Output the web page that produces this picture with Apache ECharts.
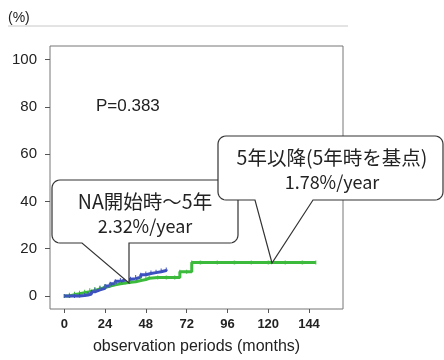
<!DOCTYPE html>
<html><head><meta charset="utf-8">
<script src="https://cdn.jsdelivr.net/npm/echarts@6/dist/echarts.min.js"></script>
<style>html,body{margin:0;padding:0;background:#fff}#c{width:444px;height:360px}</style>
</head><body><div id="c"></div>
<script>
const xTicks = [0, 24, 48, 72, 96, 120, 144];
const yTicks = [0, 20, 40, 60, 80, 100];
const blueMonths = [0,3,6,9,12,14,16,18,21,24,27,30,33,36,39,42,45,48,51,54,57,60];
const blueValues = [0,0,0,0.2,0.4,0.8,1.8,2.6,3.3,4.2,5.2,6.2,6.8,7.1,7.3,8.0,9.0,9.5,9.9,10.3,10.8,11.2];
const greenMonths = [0,3,6,9,12,15,18,21,24,27,30,33,36,39,42,45,48,50,55,60,65,68,72,75,80,90,100,110,120,130,140,148];
const greenValues = [0,0.5,1,1.4,1.8,2.4,3.0,3.6,4.2,4.7,5.2,5.5,5.8,6.0,6.5,7.0,7.5,7.8,7.8,7.8,7.8,10.3,10.3,14.2,14.2,14.2,14.2,14.2,14.2,14.2,14.2,14.2];
const pText = 'P=0.383';
const note1 = ['NA開始時～5年', '2.32%/year'];
const note2 = ['5年以降(5年時を基点)', '1.78%/year'];
const xName = 'observation periods (months)';

const zip = (a, b) => a.map((v, i) => [v, b[i]]);
const font = '"Liberation Sans", Arial, sans-serif';
const cjk = '"Noto Sans CJK JP", "Liberation Sans", sans-serif';

// rounded callout outline: box (x0,y0,x1,y1), radius r, pointer base on bottom edge, tip (tx,ty)
function callout(x0, y0, x1, y1, r, bRight, bLeft, tx, ty) {
  const pts = [];
  const arc = (cx, cy, a0, a1) => {
    for (let i = 0; i <= 6; i++) {
      const a = a0 + (a1 - a0) * i / 6;
      pts.push([cx + r * Math.cos(a), cy + r * Math.sin(a)]);
    }
  };
  const P = Math.PI;
  arc(x0 + r, y0 + r, P, 1.5 * P);
  arc(x1 - r, y0 + r, 1.5 * P, 2 * P);
  arc(x1 - r, y1 - r, 0, 0.5 * P);
  pts.push([bRight, y1], [tx, ty], [bLeft, y1]);
  arc(x0 + r, y1 - r, 0.5 * P, P);
  return pts;
}

const chart = echarts.init(document.getElementById('c'));
chart.setOption({
  animation: false,
  grid: { left: 50, top: 46, right: 101, bottom: 46, show: true, borderColor: '#777', borderWidth: 1, backgroundColor: '#fff' },
  xAxis: {
    type: 'value', min: -8.4, max: 164,
    name: xName, nameLocation: 'middle', nameGap: 30,
    nameTextStyle: { fontFamily: font, fontSize: 16, color: '#222' },
    axisLine: { show: false, onZero: false },
    splitLine: { show: false },
    axisTick: { show: true, inside: false, length: 4, lineStyle: { color: '#555' }, customValues: xTicks },
    axisLabel: { customValues: xTicks, margin: 9, fontFamily: font, fontSize: 13, fontWeight: 'bold', color: '#222' }
  },
  yAxis: {
    type: 'value', min: -5.5, max: 105.8,
    axisLine: { show: false, onZero: false },
    splitLine: { show: false },
    axisTick: { show: true, inside: false, length: 5, lineStyle: { color: '#555' }, customValues: yTicks },
    axisLabel: { customValues: yTicks, margin: 13, fontFamily: font, fontSize: 15, color: '#222' }
  },
  series: [
    { type: 'line', data: zip(greenMonths, greenValues), step: 'end', symbol: 'rect', symbolSize: [1, 4], showAllSymbol: true,
      lineStyle: { color: '#3cba3c', width: 3 }, itemStyle: { color: '#3cba3c' } },
    { type: 'line', data: zip(blueMonths, blueValues), step: 'end', symbol: 'rect', symbolSize: [1, 4], showAllSymbol: true,
      lineStyle: { color: '#3d50c0', width: 3 }, itemStyle: { color: '#3d50c0' } }
  ],
  graphic: [
    { type: 'line', shape: { x1: 8, y1: 26, x2: 348, y2: 26 }, style: { stroke: '#c8c8c8', lineWidth: 1 } },
    { type: 'text', x: 8, y: 18, style: { text: '(%)', font: '14px ' + font, fill: '#222', textVerticalAlign: 'middle' } },
    { type: 'text', x: 96, y: 106, style: { text: pText, font: '17px ' + font, fill: '#222', textVerticalAlign: 'middle' } },
    { type: 'polygon', shape: { points: callout(52, 180, 238, 243, 8, 129, 82, 129, 283) },
      style: { fill: '#fff', stroke: '#333', lineWidth: 1.2 }, z: 100 },
    { type: 'text', x: 145, y: 202, z: 101, style: { text: note1[0], font: '19.5px ' + cjk, fill: '#222', textAlign: 'center', textVerticalAlign: 'middle' } },
    { type: 'text', x: 145, y: 226, z: 101, style: { text: note1[1], font: '18px ' + cjk, fill: '#222', textAlign: 'center', textVerticalAlign: 'middle' } },
    { type: 'polygon', shape: { points: callout(218, 136, 443, 200, 8, 313, 255, 272, 263) },
      style: { fill: '#fff', stroke: '#333', lineWidth: 1.2 }, z: 102 },
    { type: 'text', x: 332, y: 158, z: 103, style: { text: note2[0], font: '19.5px ' + cjk, fill: '#222', textAlign: 'center', textVerticalAlign: 'middle' } },
    { type: 'text', x: 332, y: 182, z: 103, style: { text: note2[1], font: '18px ' + cjk, fill: '#222', textAlign: 'center', textVerticalAlign: 'middle' } }
  ]
});
</script></body></html>
